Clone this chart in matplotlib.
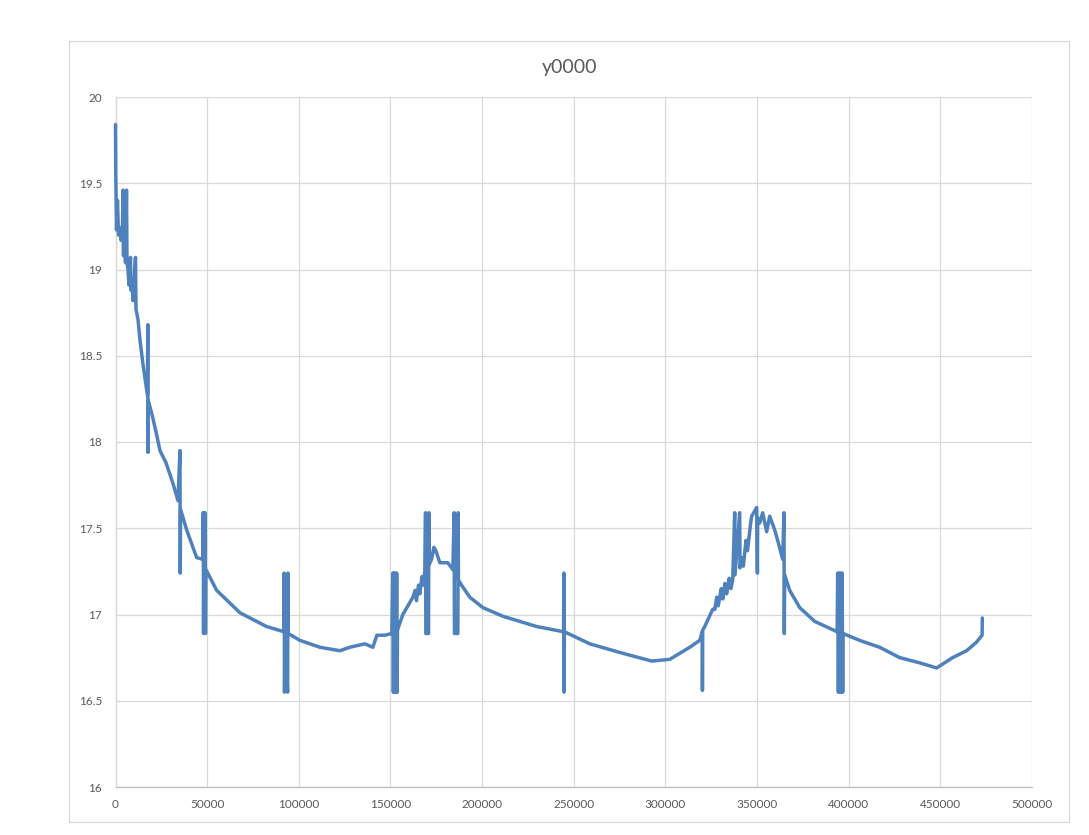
import matplotlib
matplotlib.use("Agg")
import matplotlib.pyplot as plt
from matplotlib.patches import Rectangle

plt.rcParams['font.family'] = ['Lato', 'DejaVu Sans']

# series y0000, points (spikes included in order)
x_vals = [
    0, 150, 270, 545, 1090, 1640, 2450, 3000, 3820, 4090, 4360,
    4910, 5450, 6000, 6270, 6820, 7360, 8180, 8450, 9000, 9540,
    10900, 11180, 12270, 13360, 15000, 16630, 17450, 17610, 17720, 17890,
    19900, 22080, 24270, 27540, 31350, 34080, 35170, 35330, 35500, 38830,
    44280, 47710, 47880, 48040, 48260, 48530, 48810, 49080, 49350, 55190,
    67890, 82450, 91880, 92050, 92210, 92430, 93900, 94070, 94230, 100610,
    111510, 122420, 127870, 136050, 140410, 142590, 146950, 150770, 151310, 151590,
    151970, 152300, 152680, 153060, 153390, 153660, 153830, 156770, 162220,
    163500, 164200, 165300, 166000, 167200, 167900,
    168770, 169150, 169310, 170790, 170950, 171120, 172420, 173680, 174770, 176950,
    181310, 184040, 184750, 184910, 186770, 186930, 187100, 188790, 193320, 200400,
    211310, 229850, 244460, 244570, 244730, 244900, 258740, 275100, 292550, 302370,
    313280, 318730, 320090, 320200, 320360, 321450, 325810,
    327000, 328000, 328800, 330500, 331300, 332500, 333400, 334800, 335700,
    336720, 337810, 337970, 340530, 340700,
    341800, 342500, 344000, 344800, 346500,
    347080, 349810, 350190, 350350,
    351440, 353070, 355250, 356890, 359620, 361250, 363980, 364690, 364860, 365080,
    367800, 373260, 381440, 393710, 393980, 394360, 394800, 395240, 395620, 396060,
    396430, 396710, 396870, 405970, 416880, 427790, 438690, 447960, 456690, 464320,
    469780, 472780, 472890,
]
y_vals = [
    19.84, 19.55, 19.46, 19.23, 19.40, 19.20, 19.24, 19.17, 19.26, 19.46, 19.08,
    19.45, 19.04, 19.46, 19.04, 19.00, 18.91, 19.07, 18.88, 18.94, 18.82,
    19.07, 18.77, 18.71, 18.59, 18.45, 18.33, 18.27, 18.68, 17.94, 18.24,
    18.16, 18.06, 17.95, 17.88, 17.76, 17.66, 17.95, 17.24, 17.61, 17.49,
    17.33, 17.32, 17.59, 16.89, 17.59, 16.89, 17.59, 16.89, 17.26, 17.14,
    17.01, 16.93, 16.90, 17.24, 16.55, 16.90, 16.55, 17.24, 16.89, 16.85,
    16.81, 16.79, 16.81, 16.83, 16.81, 16.88, 16.88, 16.89, 17.24, 16.55,
    17.24, 16.55, 17.24, 16.55, 17.24, 16.55, 16.91, 17.00, 17.10,
    17.14, 17.08, 17.17, 17.12, 17.22, 17.17,
    17.25, 17.59, 16.89, 16.89, 17.59, 17.29, 17.32, 17.39, 17.37, 17.30,
    17.30, 17.26, 17.59, 16.89, 16.89, 17.59, 17.20, 17.17, 17.10, 17.04,
    16.99, 16.93, 16.90, 17.24, 16.55, 16.90, 16.83, 16.78, 16.73, 16.74,
    16.81, 16.85, 16.90, 16.56, 16.91, 16.93, 17.03,
    17.03, 17.10, 17.05, 17.15, 17.09, 17.18, 17.12, 17.21, 17.15,
    17.20, 17.59, 17.23, 17.59, 17.27,
    17.33, 17.28, 17.43, 17.37, 17.53,
    17.57, 17.62, 17.24, 17.56,
    17.53, 17.59, 17.48, 17.57, 17.49, 17.43, 17.32, 17.59, 16.89, 17.23,
    17.14, 17.04, 16.96, 16.90, 17.24, 16.55, 17.24, 16.55, 17.24, 16.55,
    17.24, 16.55, 16.89, 16.85, 16.81, 16.75, 16.72, 16.69, 16.75, 16.79,
    16.84, 16.88, 16.98,
]

title = "y0000"
x_ticks = [0, 50000, 100000, 150000, 200000, 250000, 300000, 350000, 400000, 450000, 500000]
y_ticks = [16, 16.5, 17, 17.5, 18, 18.5, 19, 19.5, 20]
y_tick_labels = ["16", "16.5", "17", "17.5", "18", "18.5", "19", "19.5", "20"]

W, H = 1089, 835
fig = plt.figure(figsize=(W / 100, H / 100), dpi=100)
fig.patch.set_facecolor("white")

# chart area border
fig.patches.append(Rectangle((69 / W, (H - 822) / H), 1000 / W, 781 / H,
                             transform=fig.transFigure, fill=False,
                             edgecolor="#D9D9D9", linewidth=0.9))

ax = fig.add_axes([115.5 / W, (H - 787) / H, (1032 - 115.5) / W, (787 - 97) / H])
ax.plot(x_vals, y_vals, color="#4F81BD", linewidth=2.5, clip_on=False,
        solid_joinstyle="round", solid_capstyle="round", zorder=3)

ax.set_xlim(0, 500000)
ax.set_ylim(16, 20)
ax.set_xticks(x_ticks)
ax.set_xticklabels([str(t) for t in x_ticks])
ax.set_yticks(y_ticks)
ax.set_yticklabels(y_tick_labels)
ax.grid(True, color="#D9D9D9", linewidth=0.9)
ax.set_axisbelow(True)
for s in ["top", "right"]:
    ax.spines[s].set_visible(False)
for s in ["left", "bottom"]:
    ax.spines[s].set_color("#BFBFBF")
    ax.spines[s].set_linewidth(0.9)
    ax.spines[s].set_zorder(0.5)
ax.tick_params(length=0, labelsize=8.5, labelcolor="#595959")
ax.tick_params(axis="y", pad=9.5)
ax.tick_params(axis="x", pad=9)

fig.text(570 / W, (H - 67) / H, title, ha="center", va="center",
         fontsize=14, color="#595959")

fig.savefig("out.png", dpi=100)
